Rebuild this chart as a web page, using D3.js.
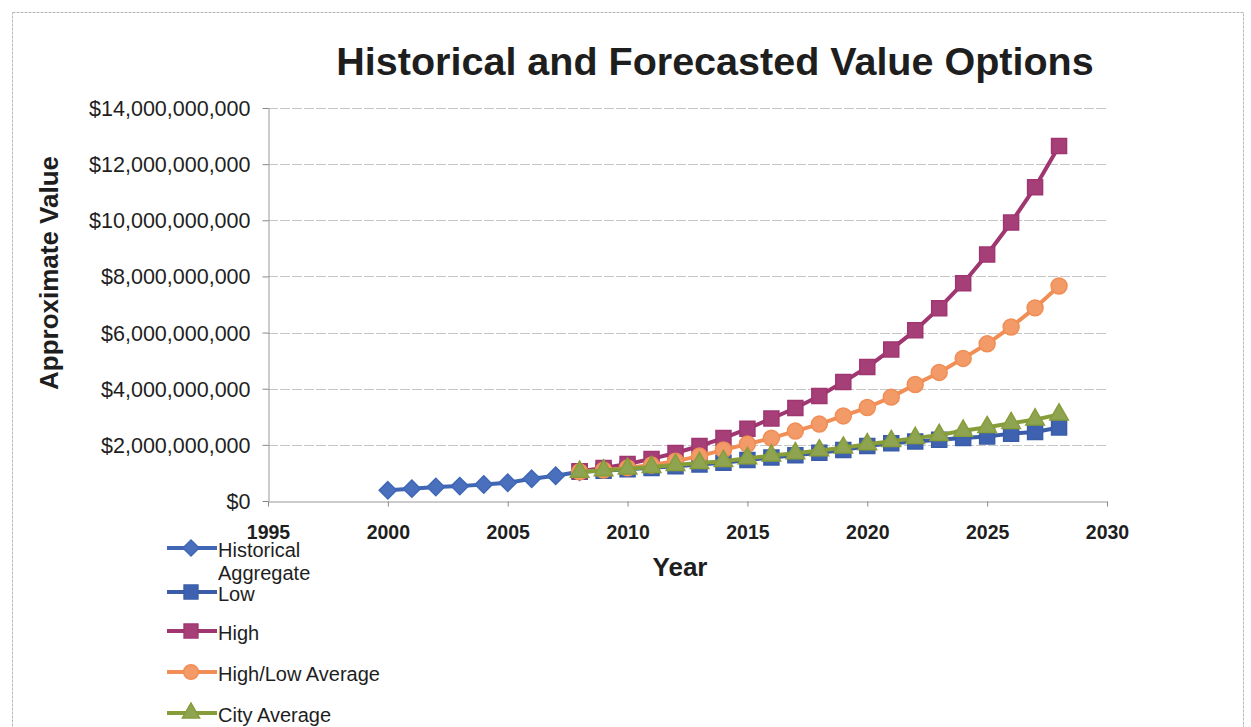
<!DOCTYPE html>
<html>
<head>
<meta charset="utf-8">
<script src="https://cdn.jsdelivr.net/npm/d3@7"></script>
<style>
  html, body { margin: 0; padding: 0; background: #fff; }
  svg { display: block; font-family: "Liberation Sans", Arial, sans-serif; }
</style>
</head>
<body>
<svg id="chart" width="1251" height="727"></svg>
<script>
// ---- data (values in dollars) ----
const historicalYears = [2000, 2001, 2002, 2003, 2004, 2005, 2006, 2007, 2008];
const historicalValues = [0.38e9, 0.44e9, 0.50e9, 0.53e9, 0.59e9, 0.65e9, 0.79e9, 0.90e9, 1.04e9];

const forecastYears = d3.range(2008, 2029);
const lowValues = [1.04e9, 1.08e9, 1.13e9, 1.18e9, 1.24e9, 1.30e9, 1.36e9, 1.46e9, 1.55e9, 1.63e9, 1.72e9,
                   1.82e9, 1.96e9, 2.06e9, 2.12e9, 2.18e9, 2.24e9, 2.30e9, 2.40e9, 2.46e9, 2.62e9];
const highValues = [1.06e9, 1.18e9, 1.32e9, 1.50e9, 1.71e9, 1.96e9, 2.24e9, 2.57e9, 2.94e9, 3.31e9, 3.74e9,
                    4.24e9, 4.77e9, 5.40e9, 6.08e9, 6.87e9, 7.76e9, 8.78e9, 9.92e9, 11.18e9, 12.65e9];
const highLowAverageValues = [1.04e9, 1.10e9, 1.18e9, 1.28e9, 1.42e9, 1.60e9, 1.82e9, 2.03e9, 2.24e9, 2.49e9, 2.74e9,
                              3.03e9, 3.33e9, 3.70e9, 4.15e9, 4.58e9, 5.08e9, 5.60e9, 6.20e9, 6.88e9, 7.66e9];
const cityAverageValues = [1.04e9, 1.09e9, 1.15e9, 1.21e9, 1.28e9, 1.35e9, 1.42e9, 1.52e9, 1.62e9, 1.70e9, 1.80e9,
                           1.90e9, 2.02e9, 2.13e9, 2.24e9, 2.35e9, 2.50e9, 2.63e9, 2.77e9, 2.90e9, 3.08e9];

const seriesNames = ["Historical Aggregate", "Low", "High", "High/Low Average", "City Average"];
const xTickValues = [1995, 2000, 2005, 2010, 2015, 2020, 2025, 2030];
const yTickValues = [0, 2e9, 4e9, 6e9, 8e9, 10e9, 12e9, 14e9];

const titleText = "Historical and Forecasted Value Options";
const xAxisTitle = "Year";
const yAxisTitle = "Approximate Value";

// ---- styling ----
const diamond = {
  draw(ctx, size) {
    const r = Math.sqrt(size) / 2;
    ctx.moveTo(0, -r); ctx.lineTo(r, 0); ctx.lineTo(0, r); ctx.lineTo(-r, 0); ctx.closePath();
  }
};
const styles = [
  { color: "#3f67b6", fill: "#4a70bd", symbol: diamond, size: 300 },
  { color: "#3a5ca9", fill: "#3f62b0", symbol: d3.symbolSquare, size: 225 },
  { color: "#9f3670", fill: "#a63f78", symbol: d3.symbolSquare, size: 225 },
  { color: "#f08e55", fill: "#f29a68", symbol: d3.symbolCircle, size: 200 },
  { color: "#879d3a", fill: "#8fa450", symbol: d3.symbolTriangle, size: 150 }
];

const series = [
  { years: historicalYears, values: historicalValues },
  { years: forecastYears, values: lowValues },
  { years: forecastYears, values: highValues },
  { years: forecastYears, values: highLowAverageValues },
  { years: forecastYears, values: cityAverageValues }
].map((s, i) => ({
  name: seriesNames[i],
  style: styles[i],
  points: s.years.map((yr, j) => ({ year: yr, value: s.values[j] }))
}));

// ---- layout ----
const svg = d3.select("#chart");
const plot = { left: 268, right: 1107, top: 108, bottom: 501 };
const ink = "#1e1e1e";

const x = d3.scaleLinear().domain([1995, 2030]).range([plot.left, plot.right]);
const y = d3.scaleLinear().domain([0, 14e9]).range([plot.bottom, plot.top]);

// outer frame
svg.append("rect")
  .attr("x", 12.5).attr("y", 12.5)
  .attr("width", 1231).attr("height", 740)
  .attr("fill", "none")
  .attr("stroke", "#b8b8b8")
  .attr("stroke-width", 1)
  .attr("stroke-dasharray", "3,1");

// title
svg.append("text")
  .attr("x", 715).attr("y", 75)
  .attr("text-anchor", "middle")
  .attr("font-size", 39.5)
  .attr("font-weight", "bold")
  .attr("fill", ink)
  .text(titleText);

// horizontal gridlines
svg.append("g")
  .selectAll("line")
  .data(yTickValues.filter(d => d > 0))
  .join("line")
  .attr("x1", plot.left).attr("x2", plot.right)
  .attr("y1", d => Math.round(y(d)) + 0.5)
  .attr("y2", d => Math.round(y(d)) + 0.5)
  .attr("stroke", "#c6c6c6")
  .attr("stroke-width", 1)
  .attr("stroke-dasharray", "10,2");

// x axis
const xAxis = svg.append("g")
  .attr("transform", `translate(0,${plot.bottom + 0.5})`)
  .call(d3.axisBottom(x).tickValues(xTickValues).tickFormat(d3.format("d")).tickSize(5).tickSizeOuter(0));
xAxis.select(".domain").attr("stroke", "#999");
xAxis.selectAll(".tick line").attr("stroke", "#888");
xAxis.selectAll(".tick text")
  .attr("y", 37).attr("dy", 0)
  .attr("font-size", 19.5)
  .attr("font-weight", "bold")
  .attr("font-family", "Liberation Sans, Arial, sans-serif")
  .attr("fill", ink);

// y axis
const yAxis = svg.append("g")
  .attr("transform", `translate(${plot.left + 0.5},0)`)
  .call(d3.axisLeft(y).tickValues(yTickValues).tickFormat(d => "$" + d3.format(",")(d)).tickSize(6).tickSizeOuter(0));
yAxis.select(".domain").attr("stroke", "#999");
yAxis.selectAll(".tick line").attr("stroke", "#888");
yAxis.selectAll(".tick text")
  .attr("x", -18)
  .attr("dy", "0.35em")
  .attr("font-size", 21.5)
  .attr("font-family", "Liberation Sans, Arial, sans-serif")
  .attr("fill", ink);

// axis titles
svg.append("text")
  .attr("x", 680).attr("y", 576)
  .attr("text-anchor", "middle")
  .attr("font-size", 26)
  .attr("font-weight", "bold")
  .attr("fill", ink)
  .text(xAxisTitle);

svg.append("text")
  .attr("transform", "translate(58,273) rotate(-90)")
  .attr("text-anchor", "middle")
  .attr("font-size", 26)
  .attr("font-weight", "bold")
  .attr("fill", ink)
  .text(yAxisTitle);

// series lines and markers
const line = d3.line().x(d => x(d.year)).y(d => y(d.value));
const seriesG = svg.append("g")
  .selectAll("g")
  .data(series)
  .join("g");

seriesG.append("path")
  .attr("d", d => line(d.points))
  .attr("fill", "none")
  .attr("stroke", d => d.style.color)
  .attr("stroke-width", 4)
  .attr("stroke-linejoin", "round");

seriesG.each(function (s) {
  d3.select(this).selectAll("path.marker")
    .data(s.points)
    .join("path")
    .attr("class", "marker")
    .attr("transform", d => `translate(${x(d.year)},${y(d.value)})`)
    .attr("d", d3.symbol().type(s.style.symbol).size(s.style.size))
    .attr("fill", s.style.fill)
    .attr("stroke", s.style.color)
    .attr("stroke-width", 1.5);
});

// legend
const legendRowY = [548, 592, 631, 672, 713];
const legend = svg.append("g")
  .selectAll("g")
  .data(series)
  .join("g")
  .attr("transform", (d, i) => `translate(0,${legendRowY[i]})`);

legend.append("line")
  .attr("x1", 167).attr("x2", 217)
  .attr("stroke", d => d.style.color)
  .attr("stroke-width", 4);

legend.append("path")
  .attr("transform", "translate(191,0)")
  .attr("d", d => d3.symbol().type(d.style.symbol).size(d.style.size * 0.85)())
  .attr("fill", d => d.style.fill)
  .attr("stroke", d => d.style.color)
  .attr("stroke-width", 1.5);

legend.each(function (d) {
  const words = d.name === "Historical Aggregate" ? ["Historical", "Aggregate"] : [d.name];
  const t = d3.select(this).append("text")
    .attr("x", 218).attr("y", 9)
    .attr("font-size", 20)
    .attr("fill", ink);
  words.forEach((w, k) => {
    t.append("tspan").attr("x", 218).attr("dy", k === 0 ? 0 : 23).text(w);
  });
});
</script>
</body>
</html>
